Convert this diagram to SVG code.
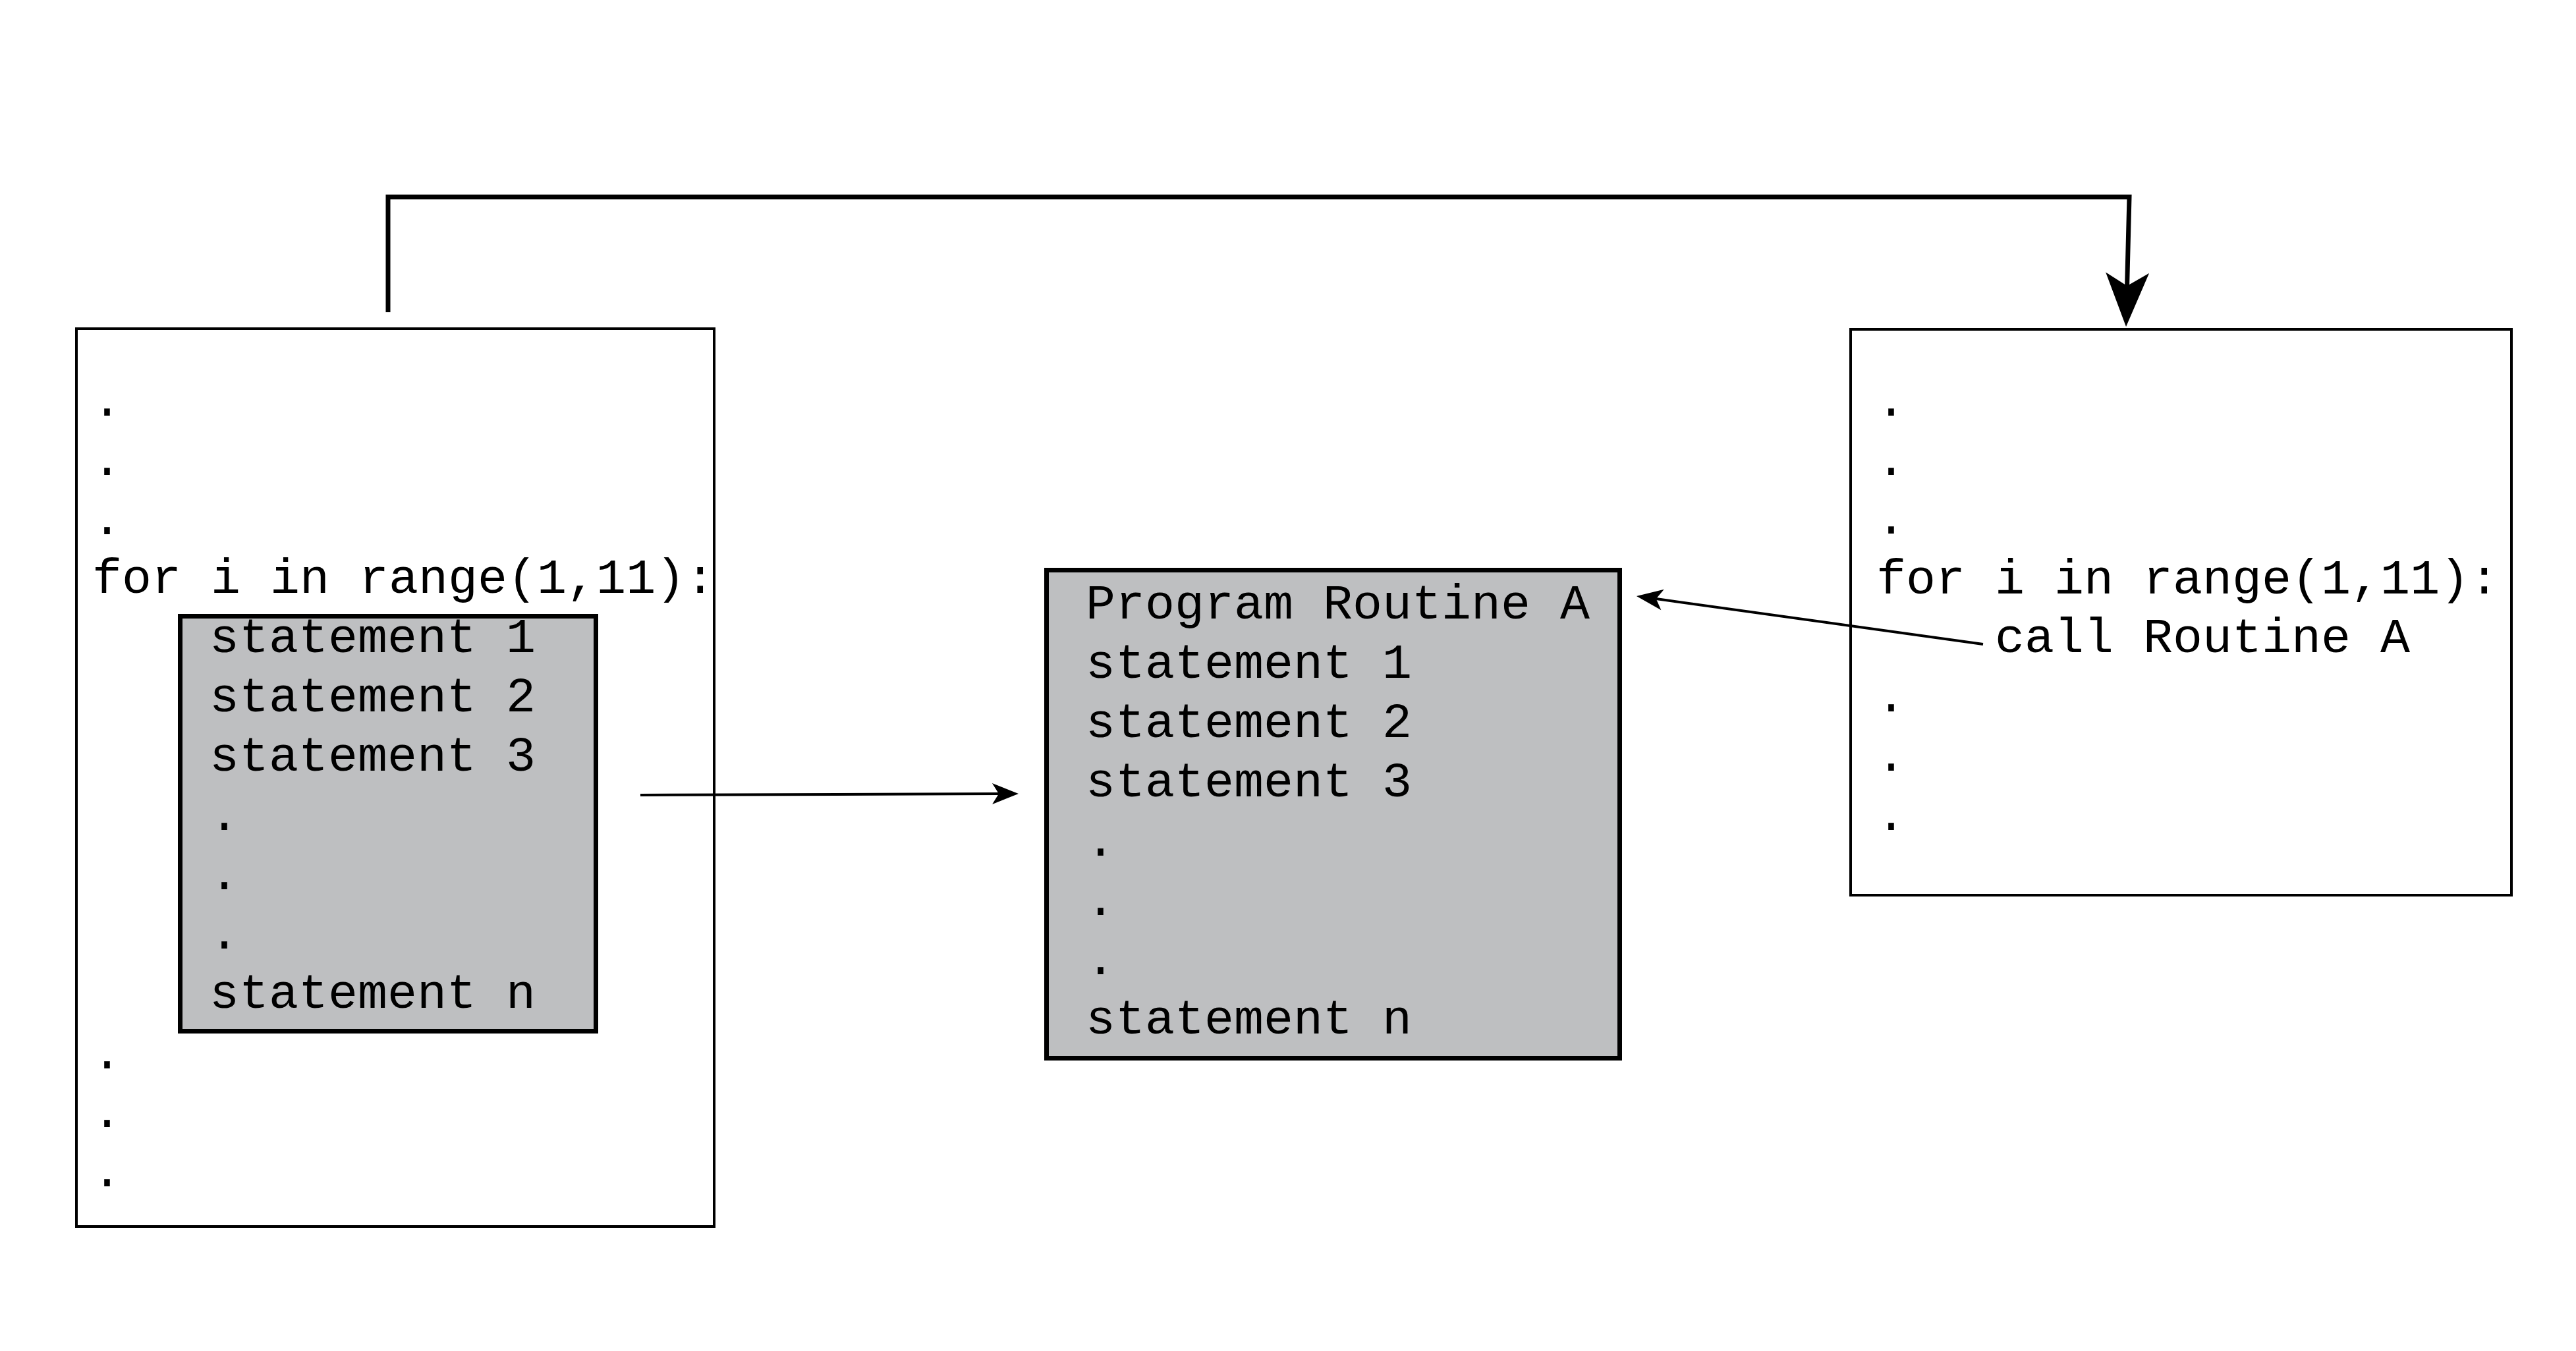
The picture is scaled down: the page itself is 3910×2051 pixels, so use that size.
<svg xmlns="http://www.w3.org/2000/svg" width="3910" height="2051" viewBox="0 0 3910 2051">
<style>
  text { font-family: "Liberation Mono", "Courier New", monospace; font-size: 75px; fill: #000; }
  .box { fill: #fff; stroke: #000; stroke-width: 4; }
  .gray { fill: #bebfc1; stroke: #000; stroke-width: 7; }
  .thick { fill: none; stroke: #000; stroke-width: 7; }
  .thin { fill: none; stroke: #000; stroke-width: 4; }
</style>
<defs>
  <marker id="bigArrow" viewBox="-25 -36 90 72" refX="0" refY="0" markerWidth="90" markerHeight="72" markerUnits="userSpaceOnUse" orient="auto">
    <path d="M62,0 L-20,-33 L0,0 L-20,33 Z" fill="#000"/>
  </marker>
  <marker id="smallArrow" viewBox="-12 -18 46 36" refX="0" refY="0" markerWidth="46" markerHeight="36" markerUnits="userSpaceOnUse" orient="auto">
    <path d="M30,0 L-10,-16 L0,0 L-10,16 Z" fill="#000"/>
  </marker>
</defs>
<rect x="0" y="0" width="3910" height="2051" fill="#fff"/>

<g id="left-program">
  <rect class="box" x="116" y="499" width="968" height="1363"/>
  <text x="140" y="631">.</text>
  <text x="140" y="721">.</text>
  <text x="140" y="811">.</text>
  <text x="140" y="900">for i in range(1,11):</text>
  <text x="140" y="1622">.</text>
  <text x="140" y="1711">.</text>
  <text x="140" y="1801">.</text>
</g>

<g id="left-loop-body">
  <rect class="gray" x="273.5" y="935.5" width="631" height="630"/>
  <text x="318" y="990">statement 1</text>
  <text x="318" y="1080">statement 2</text>
  <text x="318" y="1170">statement 3</text>
  <text x="318" y="1260">.</text>
  <text x="318" y="1350">.</text>
  <text x="318" y="1440">.</text>
  <text x="318" y="1530">statement n</text>
</g>

<g id="routine-a">
  <rect class="gray" x="1588.5" y="865.5" width="870" height="741"/>
  <text x="1648" y="939">Program Routine A</text>
  <text x="1648" y="1029">statement 1</text>
  <text x="1648" y="1119">statement 2</text>
  <text x="1648" y="1209">statement 3</text>
  <text x="1648" y="1299">.</text>
  <text x="1648" y="1389">.</text>
  <text x="1648" y="1479">.</text>
  <text x="1648" y="1569">statement n</text>
</g>

<g id="right-program">
  <rect class="box" x="2809" y="500" width="1003" height="859"/>
  <text x="2848" y="631">.</text>
  <text x="2848" y="721">.</text>
  <text x="2848" y="810">.</text>
  <text x="2848" y="901">for i in range(1,11):</text>
  <text x="3028" y="990">call Routine A</text>
  <text x="2848" y="1080">.</text>
  <text x="2848" y="1170">.</text>
  <text x="2848" y="1260">.</text>
</g>

<g id="connectors">
  <path class="thick" d="M589,474 V299 H3232 L3228.6,434" marker-end="url(#bigArrow)"/>
  <path class="thin" d="M972,1207 L1516,1205" marker-end="url(#smallArrow)"/>
  <path class="thin" d="M3010,978 L2513.7,909.1" marker-end="url(#smallArrow)"/>
</g>
</svg>
